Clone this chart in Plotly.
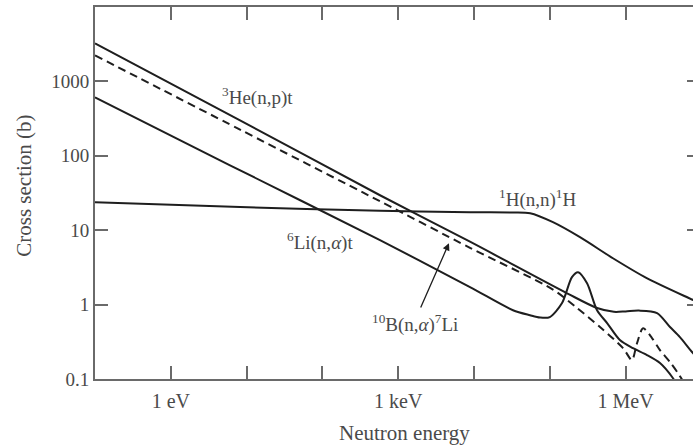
import plotly.graph_objects as go

# Neutron-induced reaction cross sections (energy in eV, cross section in barns)
he3_energy = [0.1, 8.19, 575, 8850, 1.69e5, 4.2e5, 7.0e5, 1.0e6, 1.5e6, 2.6e6, 3.85e6, 5.2e6, 7.74e6, 1.0e7]
he3_sigma = [3236, 300, 29.5, 7.0, 1.42, 0.90, 0.80, 0.81, 0.83, 0.77, 0.50, 0.366, 0.223, 0.17]

b10_energy = [0.1, 8.19, 575, 8850, 1.1e5, 2.29e5, 4.59e5, 9.25e5, 1.21e6, 1.41e6, 1.7e6, 2.23e6, 2.84e6, 3.85e6, 4.9e6, 5.5e6, 7.0e6]
b10_sigma = [2234, 225, 24.5, 5.8, 1.59, 0.90, 0.50, 0.26, 0.18, 0.30, 0.48, 0.355, 0.245, 0.169, 0.12, 0.10, 0.07]

li6_energy = [0.1, 6.04, 575, 8850, 3.27e4, 5.48e4, 7.43e4, 1.0e5, 1.45e5, 1.96e5, 2.36e5, 3.1e5, 4.2e5, 5.7e5, 8.4e5, 1.25e6, 1.91e6, 2.84e6, 4.2e6, 5.2e6]
li6_sigma = [610, 74.5, 7.35, 1.72, 0.84, 0.72, 0.67, 0.68, 1.05, 2.34, 2.73, 1.94, 0.84, 0.565, 0.334, 0.26, 0.21, 0.164, 0.103, 0.071]

h1_energy = [0.1, 8.2, 575, 8900, 3.2e4, 5.5e4, 1.1e5, 2.5e5, 6.8e5, 1.9e6, 7.8e6, 1.0e7]
h1_sigma = [23.8, 20.5, 18.2, 17.4, 17.3, 16.9, 12.8, 8.05, 4.2, 2.27, 1.15, 1.02]

# Axis ticks
x_tickvals = [1, 10, 100, 1e3, 1e4, 1e5, 1e6]
x_ticktext = ["1 eV", "", "", "1 keV", "", "", "1 MeV"]
y_tickvals = [0.1, 1, 10, 100, 1000]
y_ticktext = ["0.1", "1", "10", "100", "1000"]

# Curve labels: (text, log10 energy, log10 cross section)
curve_labels = [
    ("<sup>3</sup>He(n,p)t", 1.144, 2.80),
    ("<sup>1</sup>H(n,n)<sup>1</sup>H", 4.831, 1.42),
    ("<sup>6</sup>Li(n,<i>α</i>)t", 1.968, 0.85),
    ("<sup>10</sup>B(n,<i>α</i>)<sup>7</sup>Li", 3.215, -0.26),
]

SERIF = "Liberation Serif, Times New Roman, serif"
INK = "#1e1e1e"
AXIS = "#6a6a6a"
TEXT = "#4a4a4a"

fig = go.Figure()

for xs, ys, dash in [
    (he3_energy, he3_sigma, "solid"),
    (li6_energy, li6_sigma, "solid"),
    (h1_energy, h1_sigma, "solid"),
    (b10_energy, b10_sigma, "8px,5px"),
]:
    fig.add_trace(go.Scatter(
        x=xs, y=ys, mode="lines",
        line=dict(color=INK, width=2, dash=dash, shape="spline", smoothing=0.8),
        showlegend=False, hoverinfo="skip", cliponaxis=True,
    ))

# Carrier trace for the right-hand tick stubs
fig.add_trace(go.Scatter(x=[None], y=[None], yaxis="y2", showlegend=False, hoverinfo="skip"))

for text, lx, ly in curve_labels:
    fig.add_annotation(x=lx, y=ly, xref="x", yref="y", text=text, showarrow=False,
                       xanchor="center", yanchor="middle",
                       font=dict(family=SERIF, size=19, color=TEXT))

# Pointer from the boron label to its dashed curve
fig.add_annotation(x=3.670, y=0.826, ax=3.288, ay=-0.06, xref="x", yref="y",
                   axref="x", ayref="y", text="", showarrow=True,
                   arrowhead=2, arrowsize=1.1, arrowwidth=1.3, arrowcolor=INK)

# Axis titles
fig.add_annotation(x=0.518, y=-0.145, xref="paper", yref="paper", text="Neutron energy",
                   xanchor="center", yanchor="middle", showarrow=False,
                   font=dict(family=SERIF, size=21, color=TEXT))
fig.add_annotation(x=-0.119, y=0.519, xref="paper", yref="paper", text="Cross section (b)",
                   xanchor="center", yanchor="middle", showarrow=False, textangle=-90,
                   font=dict(family=SERIF, size=21, color=TEXT))

fig.update_layout(
    width=693, height=446,
    margin=dict(l=95, r=0, t=7, b=67),
    paper_bgcolor="white", plot_bgcolor="white",
    xaxis=dict(
        type="log", range=[-1, 6.889],
        tickvals=x_tickvals, ticktext=x_ticktext,
        ticks="inside", ticklen=13, tickwidth=1.5, tickcolor=AXIS,
        showline=True, linecolor=AXIS, linewidth=2, mirror="ticks",
        showgrid=False, zeroline=False, ticklabelstandoff=3,
        tickfont=dict(family=SERIF, size=20, color=TEXT),
    ),
    yaxis=dict(
        type="log", range=[-1, 4],
        tickvals=y_tickvals, ticktext=y_ticktext,
        ticks="inside", ticklen=13, tickwidth=1.5, tickcolor=AXIS,
        showline=True, linecolor=AXIS, linewidth=2,
        showgrid=False, zeroline=False,
        tickfont=dict(family=SERIF, size=19, color=TEXT),
    ),
    yaxis2=dict(
        type="log", range=[-1, 4], overlaying="y", side="right",
        tickvals=y_tickvals, showticklabels=False,
        ticks="inside", ticklen=6, tickwidth=1.5, tickcolor=AXIS,
        showline=False, showgrid=False, zeroline=False,
    ),
)

fig.write_html("out.html")
